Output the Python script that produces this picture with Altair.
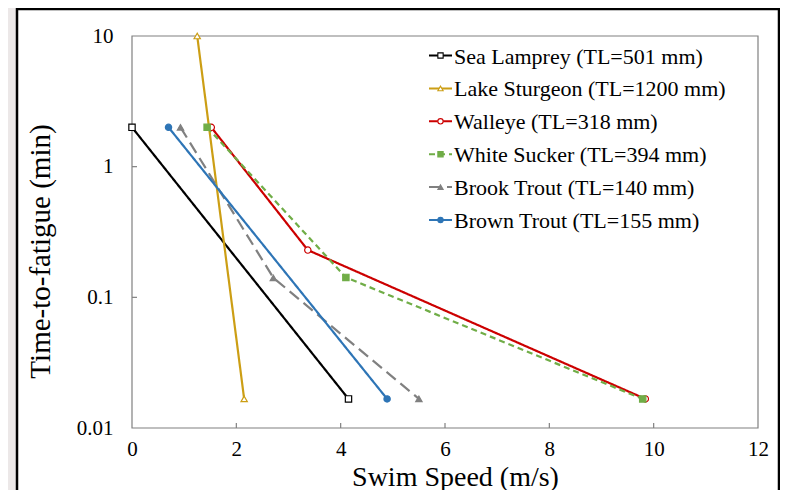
import altair as alt
import pandas as pd

# ---- data ----
series_names = [
    "Sea Lamprey (TL=501 mm)",
    "Lake Sturgeon (TL=1200 mm)",
    "Walleye (TL=318 mm)",
    "White Sucker (TL=394 mm)",
    "Brook Trout (TL=140 mm)",
    "Brown Trout (TL=155 mm)",
]
sea_lamprey_speed = [0.0, 4.15]
sea_lamprey_time = [2.0, 0.0167]
lake_sturgeon_speed = [1.25, 2.15]
lake_sturgeon_time = [10.0, 0.0167]
walleye_speed = [1.52, 3.37, 9.84]
walleye_time = [2.0, 0.23, 0.0167]
white_sucker_speed = [1.44, 4.10, 9.79]
white_sucker_time = [2.0, 0.142, 0.0167]
brook_trout_speed = [0.93, 2.71, 5.50]
brook_trout_time = [2.0, 0.141, 0.0167]
brown_trout_speed = [0.70, 4.89]
brown_trout_time = [2.0, 0.0167]

x_ticks = [2, 4, 6, 8, 10]
y_ticks = [0.1, 1]

# ---- styles ----
colors = ["#000000", "#cc9e14", "#cc0000", "#70ad47", "#808080", "#2e75b6"]
fills = ["#ffffff", "#ffffff", "#ffffff", "#70ad47", "#808080", "#2e75b6"]
shapes = ["square", "triangle-up", "circle", "square", "triangle-up", "circle"]
dashes = [[1, 0], [1, 0], [1, 0], [6, 4], [12, 6], [1, 0]]

speeds = [sea_lamprey_speed, lake_sturgeon_speed, walleye_speed,
          white_sucker_speed, brook_trout_speed, brown_trout_speed]
times = [sea_lamprey_time, lake_sturgeon_time, walleye_time,
         white_sucker_time, brook_trout_time, brown_trout_time]

rows = []
for name, sp, tm in zip(series_names, speeds, times):
    for s, t in zip(sp, tm):
        rows.append({"series": name, "speed": s, "time": t})
df = pd.DataFrame(rows)

FONT = "Liberation Serif"
W, H = 626, 392
GRAY = "#808080"

xscale = alt.Scale(domain=[0, 12], nice=False, zero=False)
yscale = alt.Scale(type="log", domain=[0.01, 10], nice=False)
color_scale = alt.Scale(domain=series_names, range=colors)
fill_scale = alt.Scale(domain=series_names, range=fills)
shape_scale = alt.Scale(domain=series_names, range=shapes)
dash_scale = alt.Scale(domain=series_names, range=dashes)

x_axis = alt.Axis(values=[0, 2, 4, 6, 8, 10, 12], format="d",
                  titleX=323, titleY=57, titleBaseline="alphabetic",
                  titleAlign="center", titleFontSize=28,
                  labelPadding=10, zindex=2)
y_axis = alt.Axis(values=[0.01, 0.1, 1, 10], format="~g",
                  titleX=-92, titleY=215, titleBaseline="middle",
                  titleAngle=-90, titleAlign="center",
                  labelPadding=19, zindex=2)
xenc = alt.X("speed:Q", scale=xscale, title="Swim Speed (m/s)", axis=x_axis)
yenc = alt.Y("time:Q", scale=yscale, title="Time-to-fatigue (min)", axis=y_axis)

dummy = pd.DataFrame({"a": [0]})

outer_box = alt.Chart(dummy).mark_rect(
    fill="white", stroke="black", strokeWidth=2.5
).encode(x=alt.value(-115), x2=alt.value(647), y=alt.value(-27), y2=alt.value(470))

frame = alt.Chart(dummy).mark_rect(
    fillOpacity=0, stroke=GRAY, strokeWidth=1.2
).encode(x=alt.value(0), x2=alt.value(W), y=alt.value(0), y2=alt.value(H))

xt = alt.Chart(pd.DataFrame({"speed": x_ticks})).mark_rule(
    color=GRAY, strokeWidth=1.2
).encode(x=xenc, y=alt.value(H), y2=alt.value(H - 5))

yt = alt.Chart(pd.DataFrame({"time": y_ticks})).mark_rule(
    color=GRAY, strokeWidth=1.2
).encode(y=yenc, x=alt.value(0), x2=alt.value(5))

lines = alt.Chart(df).mark_line(strokeWidth=2.2).encode(
    x=xenc, y=yenc,
    color=alt.Color("series:N", scale=color_scale, legend=None),
    strokeDash=alt.StrokeDash("series:N", scale=dash_scale, legend=None),
    detail="series:N",
)

points = alt.Chart(df).mark_point(filled=True, opacity=1, size=40, strokeWidth=1.2).encode(
    x=xenc, y=yenc,
    shape=alt.Shape("series:N", scale=shape_scale, legend=None),
    fill=alt.Fill("series:N", scale=fill_scale, legend=None),
    stroke=alt.Stroke("series:N", scale=color_scale, legend=None),
)

main = alt.layer(outer_box, frame, xt, yt, lines, points)

# ---- custom legend ----
leg_df = pd.DataFrame({"series": series_names})
leg_y = alt.Y("series:N", axis=None,
              scale=alt.Scale(type="point", domain=series_names, range=[19.5, 184], padding=0))

leg_rule = alt.Chart(leg_df).mark_rule(strokeWidth=2).encode(
    x=alt.value(297), x2=alt.value(320), y=leg_y,
    color=alt.Color("series:N", scale=color_scale, legend=None),
    strokeDash=alt.StrokeDash("series:N", scale=dash_scale, legend=None),
)
leg_pts = alt.Chart(leg_df).mark_point(filled=True, opacity=1, size=28, strokeWidth=1.1).encode(
    x=alt.value(308.5), y=leg_y,
    shape=alt.Shape("series:N", scale=shape_scale, legend=None),
    fill=alt.Fill("series:N", scale=fill_scale, legend=None),
    stroke=alt.Stroke("series:N", scale=color_scale, legend=None),
)
leg_txt = alt.Chart(leg_df).mark_text(
    align="left", baseline="middle", font=FONT, fontSize=22, color="black", dy=1
).encode(x=alt.value(322), y=leg_y, text="series:N")

legend = alt.layer(leg_rule, leg_pts, leg_txt)

chart = alt.layer(main, legend).resolve_scale(y="independent").properties(
    width=W, height=H,
    autosize=alt.AutoSizeParams(type="none"),
    padding={"left": 124, "top": 28, "right": 22, "bottom": 62},
    background="#ece8e8",
).configure_view(stroke=None).configure_axis(
    domain=False, ticks=False, tickSize=0, grid=False,
    labelFont=FONT, labelFontSize=21, labelColor="black",
    titleFont=FONT, titleFontSize=29, titleFontWeight="normal", titleColor="black",
    labelFlush=False, labelOverlap=False,
)

chart.save("out.html", embed_options={"renderer": "svg", "actions": False})
